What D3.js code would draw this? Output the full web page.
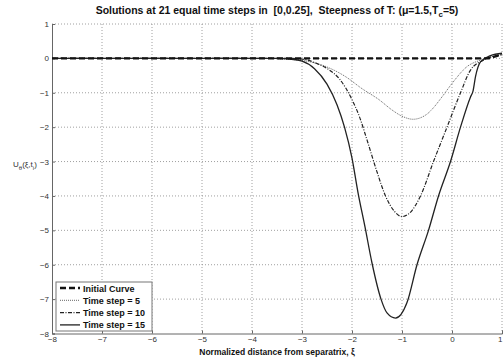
<!DOCTYPE html>
<html>
<head>
<meta charset="utf-8">
<script src="https://cdn.jsdelivr.net/npm/d3@7"></script>
<style>
  body { margin: 0; background: #fff; }
  text { font-family: "Liberation Sans", Arial, sans-serif; }
</style>
</head>
<body>
<svg id="chart" width="503" height="360"></svg>
<script>
// tick values
const xTicks = [-8, -7, -6, -5, -4, -3, -2, -1, 0, 1];
const yTicks = [1, 0, -1, -2, -3, -4, -5, -6, -7, -8];

// curves (xi, U)
const initX = [-8, -4, 0, 0.7, 0.85, 1];
const initY = [0, 0, 0, 0, 0.05, 0.12];

const step5X = [-8, -3.8, -3.5, -3.0, -2.5, -2.13, -1.8, -1.46, -1.2, -1.0, -0.78, -0.5, -0.38, -0.2, 0, 0.3, 0.57, 0.8, 1];
const step5Y = [0, 0, -0.01, -0.06, -0.25, -0.53, -0.88, -1.2, -1.5, -1.68, -1.77, -1.62, -1.45, -1.12, -0.73, -0.24, -0.05, 0.05, 0.12];

const step10X = [-8, -3.3, -3.0, -2.7, -2.46, -2.25, -2.0, -1.85, -1.7, -1.5, -1.33, -1.15, -1.0, -0.85, -0.63, -0.37, -0.1, 0.17, 0.37, 0.63, 0.8, 1];
const step10Y = [0, 0, -0.02, -0.15, -0.33, -0.6, -1.2, -1.7, -2.37, -3.3, -4.0, -4.45, -4.6, -4.5, -4.0, -3.0, -2.0, -1.0, -0.34, -0.05, 0.05, 0.1];

const step15X = [-8, -3.5, -3.3, -3.0, -2.75, -2.5, -2.3, -2.15, -2.0, -1.88, -1.74, -1.6, -1.42, -1.3, -1.13, -0.9, -0.7, -0.47, -0.27, -0.03, 0.17, 0.37, 0.42, 0.47, 0.57, 0.77, 1];
const step15Y = [0, 0, -0.01, -0.08, -0.3, -0.75, -1.35, -2.0, -2.9, -3.9, -4.9, -5.95, -7.0, -7.4, -7.55, -7.1, -6.0, -5.0, -4.0, -3.0, -2.0, -1.12, -0.95, -0.53, -0.1, 0.08, 0.15];

const legendLabels = ["Initial Curve", "Time step = 5", "Time step = 10", "Time step = 15"];

const svg = d3.select("#chart");

const x = d3.scaleLinear().domain([-8, 1]).range([52, 502]);
const y = d3.scaleLinear().domain([-8, 1]).range([333.5, 24]);

// grid
svg.append("g").selectAll("line").data(xTicks.slice(1)).join("line")
    .attr("x1", d => x(d)).attr("x2", d => x(d))
    .attr("y1", y(1)).attr("y2", y(-8))
    .attr("stroke", "#888").attr("stroke-width", 0.8).attr("stroke-dasharray", "1,2");
svg.append("g").selectAll("line").data(yTicks.slice(0, -1)).join("line")
    .attr("x1", x(-8)).attr("x2", x(1))
    .attr("y1", d => y(d)).attr("y2", d => y(d))
    .attr("stroke", "#888").attr("stroke-width", 0.8).attr("stroke-dasharray", "1,2");

// axes
const xAxis = svg.append("g").attr("transform", `translate(0,${y(-8)})`)
    .call(d3.axisBottom(x).tickValues(xTicks).tickSize(-3).tickPadding(3));
const yAxis = svg.append("g").attr("transform", `translate(${x(-8)},0)`)
    .call(d3.axisLeft(y).tickValues(yTicks).tickSize(-3).tickPadding(3));
[xAxis, yAxis].forEach(g => {
    g.select(".domain").attr("stroke", "#666");
    g.selectAll(".tick line").attr("stroke", "#666");
    g.selectAll(".tick text").attr("fill", "#333").style("font-size", "8px");
});
// keep the "1" label on the page
xAxis.selectAll(".tick text").filter(d => d === 1).attr("text-anchor", "end").attr("dx", 0);

// curves
const line = d3.line().x(d => x(d[0])).y(d => y(d[1])).curve(d3.curveMonotoneX);
const series = [
    { xs: initX, ys: initY, color: "#111", width: 2.4, dash: "6,3" },
    { xs: step5X, ys: step5Y, color: "#666", width: 1, dash: "1,1" },
    { xs: step10X, ys: step10Y, color: "#222", width: 1.2, dash: "4,1.5,1,1.5" },
    { xs: step15X, ys: step15Y, color: "#222", width: 1.3, dash: null }
];
// draw initial curve last so it sits on top
[1, 2, 3, 0].forEach(i => {
    const s = series[i];
    svg.append("path")
        .datum(s.xs.map((v, k) => [v, s.ys[k]]))
        .attr("d", line)
        .attr("fill", "none")
        .attr("stroke", s.color)
        .attr("stroke-width", s.width)
        .attr("stroke-dasharray", s.dash);
});

// legend
const lg = svg.append("g");
lg.append("rect").attr("x", 56).attr("y", 282).attr("width", 96).attr("height", 49)
    .attr("fill", "#fff").attr("stroke", "#777").attr("stroke-width", 1);
series.forEach((s, i) => {
    const ly = 288 + i * 12.3;
    lg.append("line").attr("x1", 60).attr("x2", 80).attr("y1", ly).attr("y2", ly)
        .attr("stroke", s.color).attr("stroke-width", s.width)
        .attr("stroke-dasharray", s.dash);
    lg.append("text").attr("x", 83).attr("y", ly + 3.5)
        .style("font-size", "9px").style("font-weight", "bold").attr("fill", "#111")
        .text(legendLabels[i]);
});

// title
const title = svg.append("text").attr("x", 277).attr("y", 14)
    .attr("text-anchor", "middle").style("white-space", "pre")
    .style("font-size", "10.5px").style("font-weight", "bold").attr("fill", "#111");
title.append("tspan").text("Solutions at 21 equal time steps in  [0,0.25],  Steepness of T: (μ=1.5,T");
title.append("tspan").attr("dy", 3).style("font-size", "8px").text("c");
title.append("tspan").attr("dy", -3).text("=5)");

// x label
svg.append("text").attr("x", 277).attr("y", 355).attr("text-anchor", "middle")
    .style("font-size", "8.5px").style("font-weight", "bold").attr("fill", "#111")
    .text("Normalized distance from separatrix, ξ");

// y label
const yl = svg.append("text").attr("x", 13).attr("y", 167)
    .style("font-size", "8px").attr("fill", "#333");
yl.append("tspan").text("U");
yl.append("tspan").attr("dy", 3).style("font-size", "6px").text("θ");
yl.append("tspan").attr("dy", -3).text("(ξ,t");
yl.append("tspan").attr("dy", 3).style("font-size", "6px").text("i");
yl.append("tspan").attr("dy", -3).text(")");
</script>
</body>
</html>
